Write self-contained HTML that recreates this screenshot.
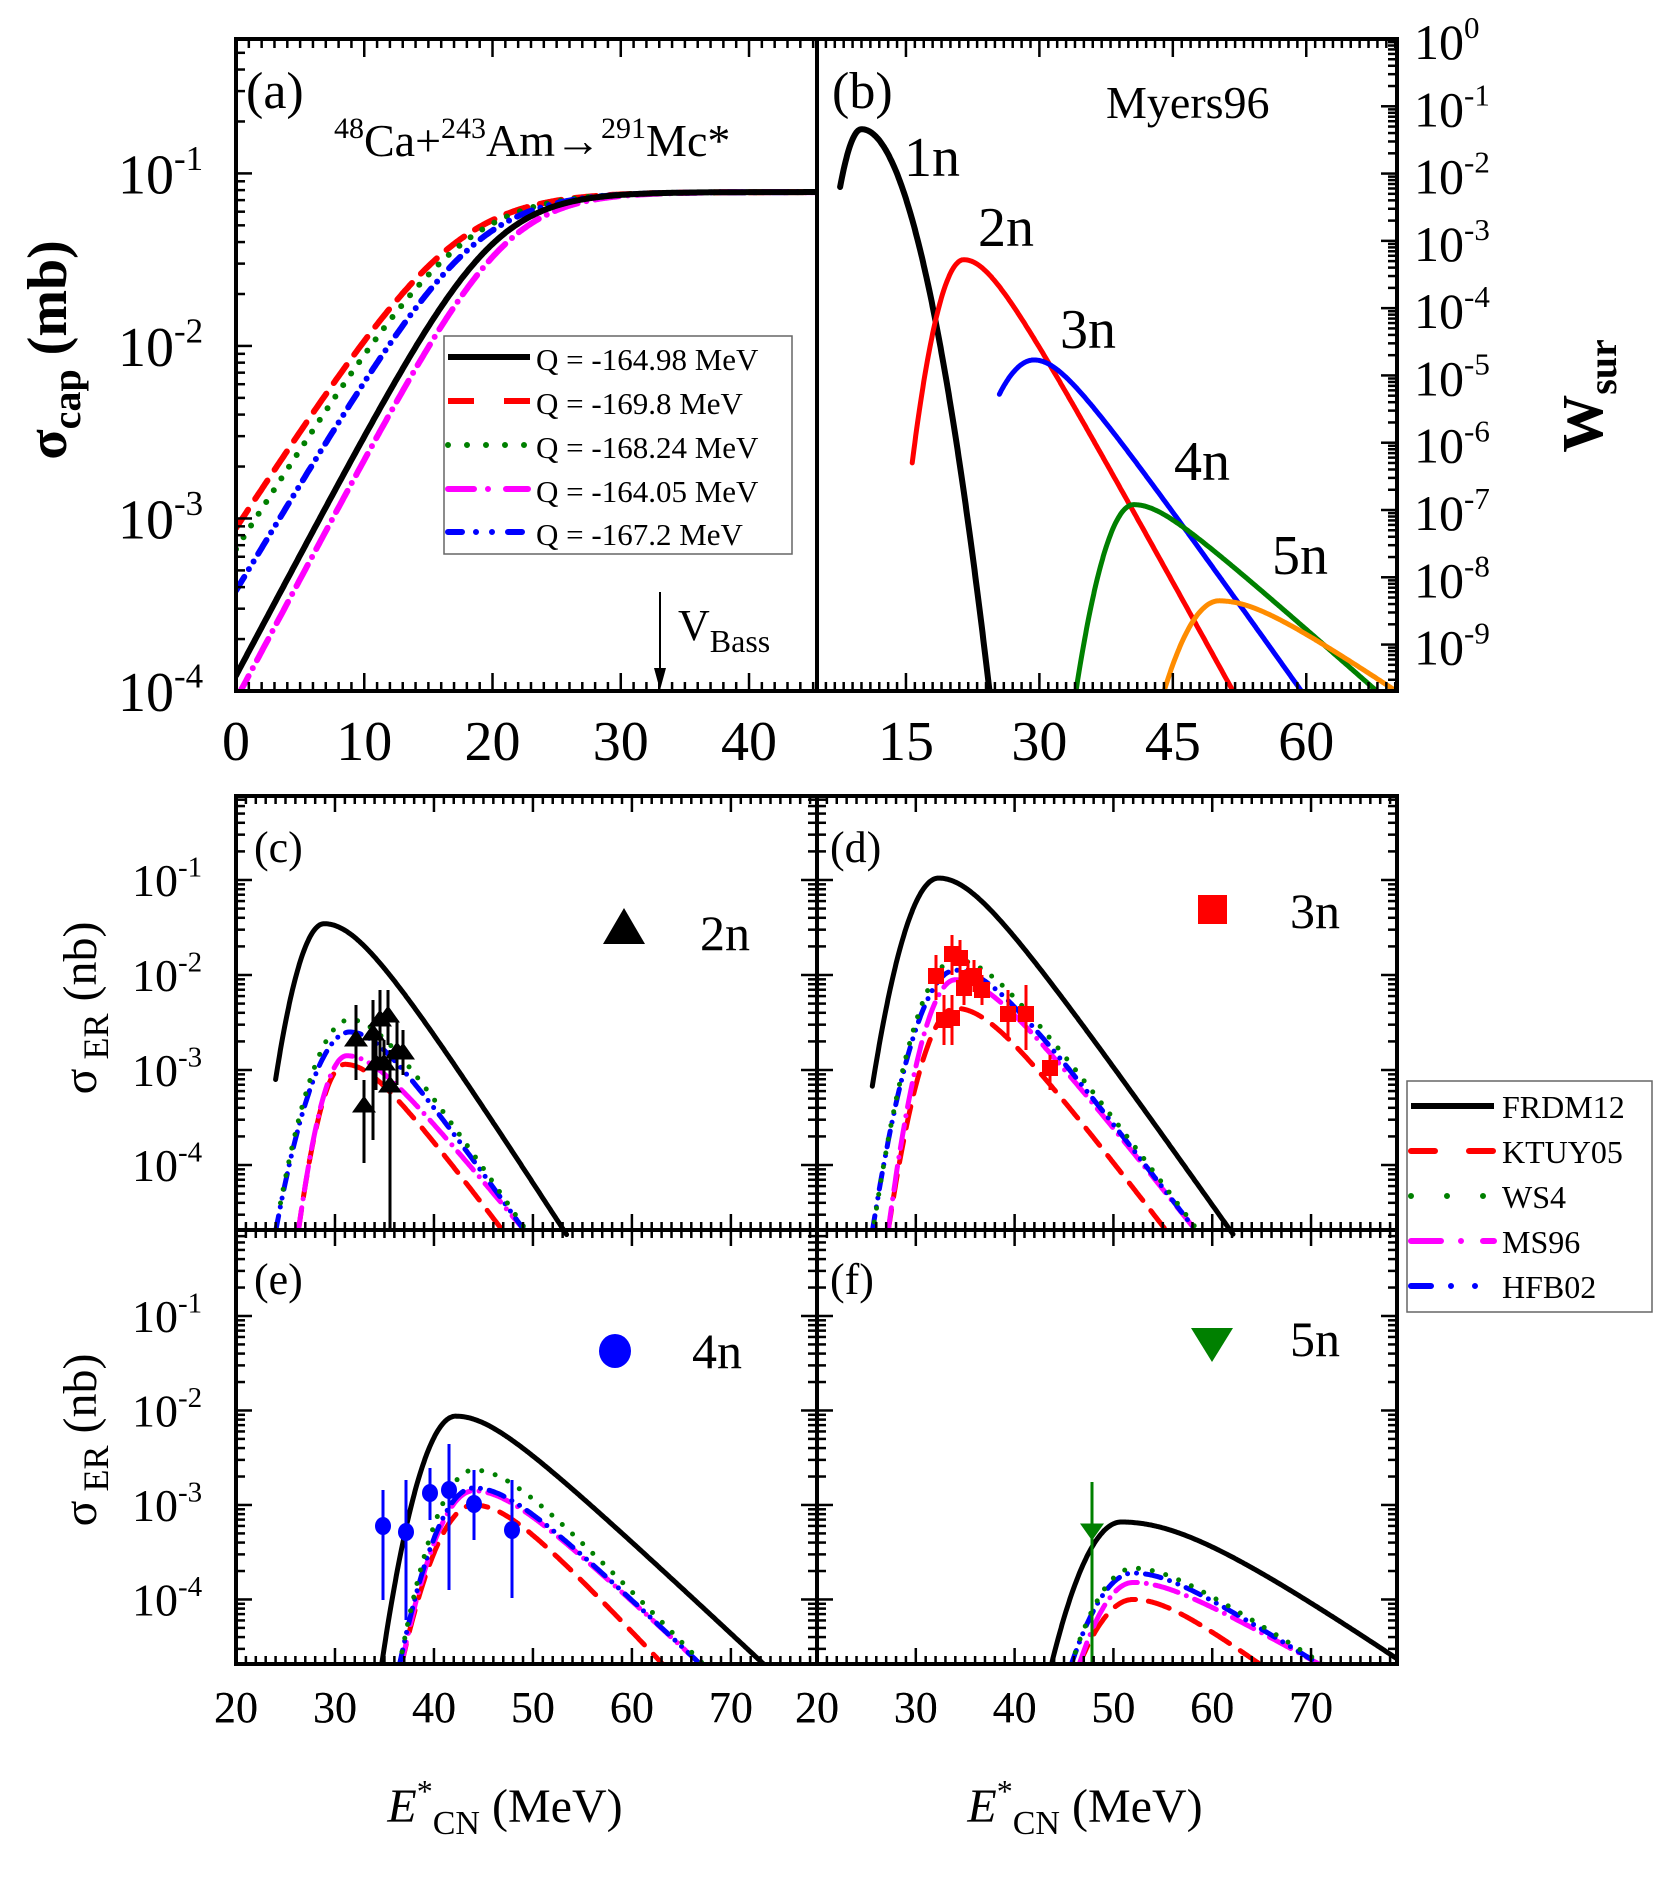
<!DOCTYPE html>
<html><head><meta charset="utf-8"><style>
html,body{margin:0;padding:0;background:#fff}
svg{display:block}
text{font-family:"Liberation Serif",serif;fill:#000}
</style></head><body>
<svg id="s" width="1661" height="1877" viewBox="0 0 1661 1877" xmlns="http://www.w3.org/2000/svg">
<g id="curves"></g>
<g id="axes"></g>
<g id="txt">
<text x="246" y="108" font-size="52">(a)</text>
<text x="334" y="156" font-size="46"><tspan font-size="30" dy="-18">48</tspan><tspan dy="18">Ca+</tspan><tspan font-size="30" dy="-18">243</tspan><tspan dy="18">Am→</tspan><tspan font-size="30" dy="-18">291</tspan><tspan dy="18">Mc*</tspan></text>
<text x="678" y="640" font-size="44">V<tspan font-size="32" dy="12">Bass</tspan></text>
<line x1="660" y1="592" x2="660" y2="676" stroke="#000" stroke-width="2"/>
<polygon points="654,668 666,668 660,690" fill="#000"/>
<text x="832" y="108" font-size="52">(b)</text>
<text x="1106" y="118" font-size="46">Myers96</text>
<text x="904" y="176" font-size="56">1n</text>
<text x="978" y="246" font-size="56">2n</text>
<text x="1060" y="348" font-size="56">3n</text>
<text x="1174" y="480" font-size="56">4n</text>
<text x="1272" y="574" font-size="56">5n</text>
<text x="254" y="862" font-size="44">(c)</text>
<text x="830" y="862" font-size="44">(d)</text>
<text x="254" y="1294" font-size="44">(e)</text>
<text x="830" y="1294" font-size="44">(f)</text>
<text x="700" y="950" font-size="50">2n</text>
<text x="1290" y="928" font-size="50">3n</text>
<text x="692" y="1368" font-size="50">4n</text>
<text x="1290" y="1356" font-size="50">5n</text>
<polygon points="624,908 603,944 645,944" fill="#000"/>
<rect x="1198" y="895" width="29" height="29" fill="#f00"/>
<ellipse cx="615" cy="1351" rx="16" ry="17" fill="#00f"/>
<polygon points="1191,1328 1233,1328 1212,1362" fill="#008000"/>
<text transform="translate(66,350) rotate(-90)" text-anchor="middle" font-size="56" font-weight="bold">σ<tspan font-size="40" dy="14">cap</tspan><tspan dy="-14"> (mb)</tspan></text>
<text transform="translate(1602,396) rotate(-90)" text-anchor="middle" font-size="58" font-weight="bold">W<tspan font-size="40" dy="14">sur</tspan></text>
<text transform="translate(96,1008) rotate(-90)" text-anchor="middle" font-size="48">σ<tspan font-size="36" dy="12"> ER</tspan><tspan dy="-12"> (nb)</tspan></text>
<text transform="translate(96,1440) rotate(-90)" text-anchor="middle" font-size="48">σ<tspan font-size="36" dy="12"> ER</tspan><tspan dy="-12"> (nb)</tspan></text>
<text x="505" y="1822" text-anchor="middle" font-size="48"><tspan font-style="italic">E</tspan><tspan font-size="32" dy="-20">*</tspan><tspan font-size="34" dy="32">CN</tspan><tspan dy="-12">  (MeV)</tspan></text>
<text x="1085" y="1822" text-anchor="middle" font-size="48"><tspan font-style="italic">E</tspan><tspan font-size="32" dy="-20">*</tspan><tspan font-size="34" dy="32">CN</tspan><tspan dy="-12">  (MeV)</tspan></text>
</g>
<g id="leg">
<rect x="444" y="336" width="348" height="218" fill="#fff" stroke="#666" stroke-width="1.5"/>
<line x1="448" y1="357" x2="530" y2="357" stroke="#000" stroke-width="6"/>
<line x1="448" y1="401" x2="530" y2="401" stroke="#f00" stroke-width="6" stroke-dasharray="26 30"/>
<line x1="448" y1="445" x2="530" y2="445" stroke="#008000" stroke-width="6" stroke-dasharray="0 19" stroke-linecap="round"/>
<line x1="448" y1="489" x2="530" y2="489" stroke="#f0f" stroke-width="6" stroke-dasharray="26 14 0 18 22" stroke-linecap="round"/>
<line x1="448" y1="532" x2="530" y2="532" stroke="#00f" stroke-width="6" stroke-dasharray="14 14 0 16 0 16" stroke-linecap="round"/>
<text x="536" y="370" font-size="31">Q = -164.98 MeV</text>
<text x="536" y="414" font-size="31">Q = -169.8 MeV</text>
<text x="536" y="458" font-size="31">Q = -168.24 MeV</text>
<text x="536" y="502" font-size="31">Q = -164.05 MeV</text>
<text x="536" y="545" font-size="31">Q = -167.2 MeV</text>
<rect x="1407" y="1081" width="245" height="231" fill="#fff" stroke="#666" stroke-width="1.5"/>
<line x1="1411" y1="1106" x2="1494" y2="1106" stroke="#000" stroke-width="6"/>
<line x1="1411" y1="1151" x2="1494" y2="1151" stroke="#f00" stroke-width="6" stroke-dasharray="24 34" stroke-linecap="round"/>
<line x1="1411" y1="1196" x2="1494" y2="1196" stroke="#008000" stroke-width="6" stroke-dasharray="0 36" stroke-linecap="round"/>
<line x1="1411" y1="1241" x2="1494" y2="1241" stroke="#f0f" stroke-width="6" stroke-dasharray="30 20 0 22 12" stroke-linecap="round"/>
<line x1="1411" y1="1286" x2="1494" y2="1286" stroke="#00f" stroke-width="6" stroke-dasharray="20 20 0 24 0 40" stroke-linecap="round"/>
<text x="1502" y="1118" font-size="32">FRDM12</text>
<text x="1502" y="1163" font-size="32">KTUY05</text>
<text x="1502" y="1208" font-size="32">WS4</text>
<text x="1502" y="1253" font-size="32">MS96</text>
<text x="1502" y="1298" font-size="32">HFB02</text>
</g>
</svg>
<script>
var NS="http://www.w3.org/2000/svg";
function el(p,t,a){var e=document.createElementNS(NS,t);for(var k in a)e.setAttribute(k,a[k]);p.appendChild(e);return e;}
var C=document.getElementById('curves'),A=document.getElementById('axes');
function P(x0,x1,y0,y1,xmin,xmax,lmin,lmax){return {x0:x0,x1:x1,y0:y0,y1:y1,xmin:xmin,xmax:xmax,lmin:lmin,lmax:lmax,
 X:function(e){return x0+(e-xmin)/(xmax-xmin)*(x1-x0);},Y:function(l){return y1-(l-lmin)/(lmax-lmin)*(y1-y0);}};}
var pa=P(236,817,39,691,0,45.3,-4.0,-0.221);
var pb=P(817,1397,39,691,5,70.2,-9.69,0);
var pc=P(236,817,796,1230,20,78.7,-4.684,-0.116);
var pd=P(817,1397,796,1230,20,78.7,-4.684,-0.116);
var pe=P(236,817,1230,1664,20,78.7,-4.683,-0.09);
var pf=P(817,1397,1230,1664,20,78.7,-4.683,-0.09);
var ST={k:{s:"#000",d:""},r:{s:"#f00",d:"22 13"},g:{s:"#008000",d:"0 14"},m:{s:"#f0f",d:"24 9 0 9"},b:{s:"#00f",d:"16 9 0 9 0 9"}};
function draw(p,f,e0,e1,st,w,col){
 var d="",first=true;
 for(var e=e0;e<=e1+1e-9;e+=0.1){var l=f(e);if(l<p.lmin-0.05){if(!first)break;else continue;}
  var x=p.X(e),y=p.Y(Math.max(l,p.lmin-0.05));d+=(first?"M":"L")+x.toFixed(1)+","+y.toFixed(1);first=false;}
 var a={d:d,fill:"none",stroke:col||ST[st].s,"stroke-width":w||5,"stroke-linecap":"round","stroke-linejoin":"round"};
 if(st&&ST[st].d)a["stroke-dasharray"]=ST[st].d;
 el(C,"path",a);
}
function cap(E0,w){return function(e){return Math.log10(0.078/(1+Math.exp(-(e-E0)/w)));};}
var clipA=el(C,"clipPath",{id:"ca"});el(clipA,"rect",{x:236,y:39,width:581,height:652});
var ga=el(C,"g",{"clip-path":"url(#ca)"});
var Csave=C;C=ga;
draw(pa,cap(17,3.8),0,45.3,"r",6);
draw(pa,cap(17.6,3.7),0,45.3,"g",6);
draw(pa,cap(18.6,3.5),0,45.3,"b",6);
draw(pa,cap(21,3.1),0,45.3,"m",6);
draw(pa,cap(20,3.1),0,45.3,"k",6);
C=Csave;
function mk(Ep,pk,Es,Ls,Ee,Le,r){var aL=(pk-Ls)/Math.pow(Ep-Es,2);var d=Ee-Ep;var s=(pk-Le)/(Math.sqrt(d*d+r*r)-r);
 return function(e){var x=e-Ep;if(x<0)return pk-aL*x*x;return pk-s*(Math.sqrt(x*x+r*r)-r);};}
var clipB=el(C,"clipPath",{id:"cb"});el(clipB,"rect",{x:817,y:39,width:580,height:652});
var gb=el(C,"g",{"clip-path":"url(#cb)"});C=gb;
draw(pb,mk(10,-1.34,7.6,-2.2,24.4,-9.7,40),7.6,30,"k",6);
draw(pb,mk(21.5,-3.28,15.7,-6.3,51.8,-9.7,4),15.7,60,null,5,"#f00");
draw(pb,mk(29.4,-4.77,25.5,-5.28,59.5,-9.7,4),25.5,70,null,5,"#00f");
draw(pb,mk(40.6,-6.92,34.1,-9.7,68,-9.7,4),34.1,72,null,5,"#008000");
draw(pb,mk(50.2,-8.35,44,-9.7,70.2,-9.7,6),44,72,null,5,"#ff8c00");
C=Csave;
function er(p,id,set){var cl=el(C,"clipPath",{id:id});el(cl,"rect",{x:p.x0,y:p.y0,width:p.x1-p.x0,height:p.y1-p.y0});
 var g=el(C,"g",{"clip-path":"url(#"+id+")"});var s=C;C=g;
 set.forEach(function(c){draw(p,mk(c[1],c[2],c[3],c[4],c[5],p.lmin,c[6]),c[3],80,c[0],5);});C=s;}
er(pc,"cc",[["r",31,-2.94,26.3,-4.7,46.9,4],["m",31.2,-2.85,26.3,-4.7,49.1,4],["b",31.5,-2.6,24,-4.7,49.1,4],["g",31.5,-2.47,24.5,-4.4,49.3,4]]);
draw(pc,mk(28.9,-1.46,24,-3.1,53.1,-4.684,5),24,60,"k",5);
er(pd,"cd",[["r",34,-2.35,27.2,-4.7,55.3,5],["m",34,-2.05,27.2,-4.7,58.3,5],["b",34,-1.95,25.6,-4.7,58.3,5],["g",34,-1.84,25.8,-4.6,58.5,5]]);
draw(pd,mk(32.3,-0.98,25.6,-3.17,61.8,-4.684,5),25.6,70,"k",5);
er(pe,"ce",[["r",44,-3.0,36.7,-4.7,63.1,5],["m",44,-2.85,36.7,-4.7,66.9,5],["b",44,-2.82,36.5,-4.7,66.9,5],["g",44,-2.63,36.5,-4.7,67.2,5],["k",42.2,-2.06,34.7,-4.7,73.3,5]]);
er(pf,"cf",[["r",52,-4.0,46.5,-4.7,64.8,5],["m",52,-3.82,46.5,-4.7,70.8,5],["b",52,-3.72,45.7,-4.7,70.8,5],["g",52,-3.67,45.7,-4.7,71.2,5],["k",50.8,-3.18,43.7,-4.7,79.5,10]]);
function tri(x,y,c,down){var h=17,w=12;el(C,"polygon",{points:down?(x-w)+","+(y-h/2)+" "+(x+w)+","+(y-h/2)+" "+x+","+(y+h/2):(x-w)+","+(y+h/2)+" "+(x+w)+","+(y+h/2)+" "+x+","+(y-h/2),fill:c});}
function eb(x,t,b,c){el(C,"line",{x1:x,y1:t,x2:x,y2:b,stroke:c,"stroke-width":3});}
var dc=[[356,1038,1005,1080],[364,1104,1080,1163],[373,1032,1000,1140],[376,1062,1030,1090],[380,1018,990,1060],[384,1062,1040,1085],[388,1014,990,1045],[390,1084,1050,1230],[397,1050,1020,1085],[403,1051,1030,1075]];
dc.forEach(function(p){eb(p[0],p[2],p[3],"#000");tri(p[0],p[1],"#000");});
var dd=[[936,976,955,1000],[944,1020,995,1045],[952,954,935,975],[952,1018,995,1045],[960,958,940,980],[964,988,970,1005],[968,978,960,995],[974,976,960,992],[982,990,975,1005],[1008,1014,990,1040],[1026,1014,985,1050],[1050,1068,1055,1090]];
dd.forEach(function(p){eb(p[0],p[2],p[3],"#f00");el(C,"rect",{x:p[0]-8,y:p[1]-8,width:16,height:16,fill:"#f00"});});
var de=[[383,1526,1490,1600],[406,1532,1480,1620],[430,1493,1468,1520],[449,1490,1444,1590],[474,1504,1470,1540],[512,1530,1480,1598]];
de.forEach(function(p){eb(p[0],p[2],p[3],"#00f");el(C,"ellipse",{cx:p[0],cy:p[1],rx:8,ry:9,fill:"#00f"});});
eb(1092,1482,1664,"#008000");tri(1092,1532,"#008000",true);
function frame(p){el(A,"rect",{x:p.x0,y:p.y0,width:p.x1-p.x0,height:p.y1-p.y0,fill:"none",stroke:"#000","stroke-width":4});}
function tk(x1,y1,x2,y2,w){el(A,"line",{x1:x1,y1:y1,x2:x2,y2:y2,stroke:"#000","stroke-width":w||2.5});}
function xticks(p,maj,minr,L,l){for(var e=p.xmin;e<=p.xmax+1e-6;e+=minr){var x=p.X(e);var isM=Math.abs((e/maj)-Math.round(e/maj))<1e-6;var len=isM?L:l;
 tk(x,p.y1,x,p.y1-len);tk(x,p.y0,x,p.y0+len);}}
function yticks(p,left,right){for(var d=Math.ceil(p.lmin)-1;d<=Math.floor(p.lmax)+1;d++){for(var m=1;m<10;m++){var l=d+Math.log10(m);if(l<p.lmin||l>p.lmax)continue;var y=p.Y(l);var len=m==1?16:9;
 if(left)tk(p.x0,y,p.x0+len,y);if(right)tk(p.x1,y,p.x1-len,y);}}}
[pa,pb,pc,pd,pe,pf].forEach(frame);
xticks(pa,10,1,18,9);xticks(pb,15,1,18,9);
[pc,pd,pe,pf].forEach(function(p){xticks(p,10,1,16,8);yticks(p,true,true);});
yticks(pa,true,false);yticks(pb,false,true);
function T(x,y,s,fs,anc,sup){var t=el(A,"text",{x:x,y:y,"font-size":fs,"text-anchor":anc||"middle"});t.textContent=s;if(sup!==undefined){var u=el(t,"tspan",{"font-size":Math.round(fs*0.62),dy:-fs*0.42});u.textContent=sup;}}
[0,10,20,30,40].forEach(function(v){T(pa.X(v),760,""+v,56);});
[15,30,45,60].forEach(function(v){T(pb.X(v),760,""+v,56);});
[-1,-2,-3,-4].forEach(function(v){T(118,pa.Y(v)+20,"10",56,"start",""+v);});
for(var v=0;v>=-9;v--)T(1414,pb.Y(v)+20,"10",50,"start",""+v);
[pc,pd,pe,pf].forEach(function(p,i){[20,30,40,50,60,70].forEach(function(v){T(p.X(v),1722,""+v,44);});
 if(i%2==0)[-1,-2,-3,-4].forEach(function(v){T(132,p.Y(v)+16,"10",46,"start",""+v);});});
</script>
</body></html>
